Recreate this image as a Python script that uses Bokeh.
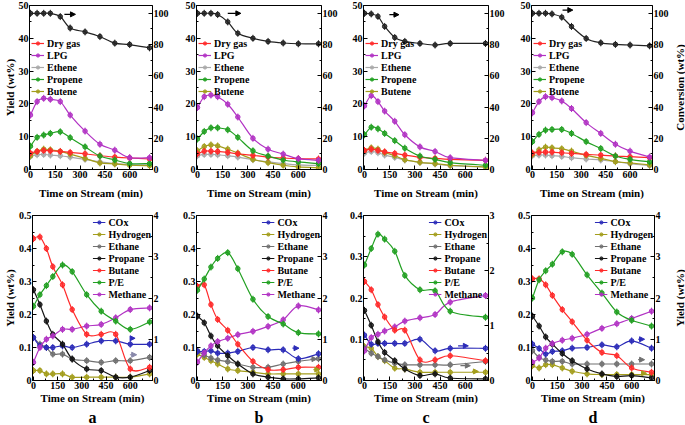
import numpy as np
from bokeh.plotting import figure
from bokeh.models import Range1d, LinearAxis, Legend, LegendItem, Arrow, NormalHead, Title, FixedTicker
from bokeh.layouts import column, row
from bokeh.embed import file_html
from bokeh.resources import INLINE

# ---------------- data ----------------
times = [0, 40, 80, 120, 180, 240, 330, 420, 510, 600, 720]
times_c = [0, 40, 80, 120, 180, 240, 330, 420, 510, 720]
x_ticks = [0, 150, 300, 450, 600]

# top row: yields (wt%) and conversion (wt%)
a_drygas = [5.0, 5.5, 5.8, 5.7, 5.5, 5.2, 4.8, 4.2, 3.8, 3.5, 3.2]
a_lpg = [16.6, 20.7, 21.7, 21.4, 20.7, 16.6, 11.7, 7.7, 5.9, 3.6, 3.6]
a_ethene = [4.0, 4.5, 4.6, 4.4, 4.2, 3.8, 3.1, 2.3, 1.8, 1.5, 1.4]
a_propene = [7.1, 9.8, 10.5, 11.0, 11.5, 9.7, 6.9, 4.1, 2.9, 1.8, 1.8]
a_butene = [4.2, 5.5, 6.2, 6.0, 5.5, 4.7, 3.4, 2.0, 1.7, 1.3, 1.2]
a_conv = [100, 100, 100, 100, 97.9, 90.6, 88.1, 85.1, 80.9, 80.0, 77.9]

b_drygas = [4.8, 5.6, 5.6, 5.5, 5.2, 4.8, 4.3, 3.8, 3.5, 3.3, 3.2]
b_lpg = [18.9, 22.2, 22.7, 22.2, 19.9, 16.0, 9.5, 6.2, 4.7, 3.3, 2.8]
b_ethene = [4.2, 4.6, 4.6, 4.5, 4.2, 3.8, 3.0, 2.3, 1.8, 1.4, 1.2]
b_propene = [9.3, 11.6, 12.7, 12.7, 12.1, 9.8, 5.7, 4.1, 2.9, 2.3, 1.8]
b_butene = [5.7, 7.0, 7.5, 7.2, 6.2, 5.0, 3.1, 2.1, 1.3, 0.8, 0.5]
b_conv = [100, 100, 100, 99.2, 94.5, 87.2, 84.0, 82.0, 81.0, 80.5, 80.5]

c_drygas = [5.8, 6.2, 5.8, 5.4, 4.9, 4.4, 3.7, 3.4, 3.1, 2.8]
c_lpg = [19.4, 22.5, 20.7, 17.8, 14.7, 10.6, 6.9, 5.5, 3.6, 2.8]
c_ethene = [5.0, 5.5, 5.1, 4.4, 3.7, 2.9, 2.2, 1.7, 1.2, 0.8]
c_propene = [10.6, 12.9, 12.4, 11.0, 8.8, 6.5, 4.1, 3.1, 2.1, 1.3]
c_butene = [5.8, 6.6, 6.2, 5.2, 4.2, 3.0, 2.2, 1.8, 1.3, 0.8]
c_conv = [100, 99.6, 98.0, 91.6, 84.5, 82.0, 80.7, 79.7, 80.7, 80.7]

d_drygas = [5.0, 5.2, 5.3, 5.3, 5.1, 4.9, 4.6, 4.4, 4.1, 3.9, 3.6]
d_lpg = [17.3, 20.7, 22.2, 21.9, 20.9, 18.6, 14.3, 11.0, 7.7, 5.6, 3.8]
d_ethene = [4.2, 4.4, 4.4, 4.2, 4.0, 3.6, 3.2, 2.9, 2.4, 1.8, 1.2]
d_propene = [8.5, 10.7, 12.0, 12.2, 12.2, 11.0, 8.5, 6.4, 4.1, 3.1, 2.3]
d_butene = [4.6, 6.0, 6.8, 6.6, 6.3, 5.6, 4.3, 3.4, 2.4, 2.0, 1.4]
d_conv = [100, 100, 100, 99.6, 97.5, 91.6, 83.9, 81.1, 80.1, 79.7, 79.2]

# bottom row: minor products (wt%) and P/E ratio (right axis)
a_cox = [0.13, 0.105, 0.10, 0.10, 0.105, 0.10, 0.11, 0.12, 0.12, 0.11, 0.11]
a_h2 = [0.03, 0.03, 0.02, 0.02, 0.02, 0.01, 0.01, 0.01, 0.01, 0.01, 0.02]
a_ethane = [0.13, 0.11, 0.10, 0.08, 0.08, 0.065, 0.06, 0.055, 0.06, 0.06, 0.07]
a_propane = [0.275, 0.23, 0.18, 0.14, 0.11, 0.065, 0.035, 0.03, 0.01, 0.01, 0.03]
a_butane = [0.43, 0.435, 0.40, 0.345, 0.29, 0.215, 0.14, 0.14, 0.14, 0.035, 0.04]
a_pe = [1.8, 2.08, 2.3, 2.52, 2.8, 2.64, 2.08, 1.68, 1.44, 1.24, 1.42]
a_methane = [0.055, 0.10, 0.125, 0.135, 0.155, 0.155, 0.165, 0.17, 0.19, 0.215, 0.22]

b_cox = [0.088, 0.088, 0.09, 0.083, 0.083, 0.088, 0.10, 0.093, 0.093, 0.066, 0.081]
b_h2 = [0.08, 0.07, 0.06, 0.05, 0.035, 0.03, 0.025, 0.02, 0.02, 0.02, 0.02]
b_ethane = [0.09, 0.077, 0.068, 0.062, 0.057, 0.05, 0.04, 0.04, 0.05, 0.058, 0.066]
b_propane = [0.195, 0.175, 0.135, 0.105, 0.075, 0.05, 0.02, 0.01, 0.005, 0.005, 0.008]
b_butane = [0.285, 0.29, 0.23, 0.185, 0.152, 0.11, 0.058, 0.033, 0.033, 0.04, 0.04]
b_pe = [2.19, 2.46, 2.75, 2.96, 3.1, 2.71, 1.97, 1.55, 1.37, 1.16, 1.13]
b_methane = [0.056, 0.084, 0.105, 0.118, 0.128, 0.139, 0.149, 0.164, 0.184, 0.226, 0.214]

c_cox = [0.11, 0.088, 0.09, 0.09, 0.09, 0.09, 0.10, 0.072, 0.078, 0.078]
c_h2 = [0.082, 0.078, 0.058, 0.048, 0.03, 0.028, 0.02, 0.02, 0.02, 0.02]
c_ethane = [0.078, 0.066, 0.058, 0.05, 0.042, 0.038, 0.038, 0.038, 0.038, 0.046]
c_propane = [0.17, 0.134, 0.094, 0.068, 0.048, 0.028, 0.012, 0.016, 0.006, 0.004]
c_butane = [0.24, 0.22, 0.184, 0.154, 0.122, 0.122, 0.05, 0.05, 0.06, 0.048]
c_pe = [2.1, 2.4, 2.66, 2.57, 2.35, 1.91, 1.65, 1.63, 1.26, 1.15]
c_methane = [0.072, 0.104, 0.112, 0.12, 0.13, 0.144, 0.152, 0.16, 0.19, 0.206]

d_cox = [0.11, 0.097, 0.08, 0.088, 0.09, 0.098, 0.10, 0.108, 0.102, 0.12, 0.098]
d_h2 = [0.045, 0.038, 0.048, 0.048, 0.038, 0.028, 0.02, 0.018, 0.018, 0.018, 0.018]
d_ethane = [0.09, 0.07, 0.062, 0.058, 0.058, 0.05, 0.05, 0.05, 0.05, 0.05, 0.05]
d_propane = [0.195, 0.165, 0.132, 0.11, 0.082, 0.06, 0.035, 0.02, 0.012, 0.015, 0.008]
d_butane = [0.308, 0.308, 0.29, 0.258, 0.215, 0.178, 0.122, 0.085, 0.075, 0.038, 0.025]
d_pe = [2.0, 2.44, 2.66, 2.82, 3.12, 3.06, 2.56, 2.12, 1.66, 1.46, 1.32]
d_methane = [0.055, 0.068, 0.098, 0.112, 0.122, 0.128, 0.14, 0.158, 0.172, 0.188, 0.21]

panel_letters = ["a", "b", "c", "d"]

# ---------------- style ----------------
FONT = "Liberation Serif"
C_DRY = "#ff2a2a"
C_LPG = "#b233c4"
C_ETHENE = "#a9a9a9"
C_PROPENE = "#22a022"
C_BUTENE = "#a39d1c"
C_CONV = "#222222"
C_COX = "#2b2bb8"
C_H2 = "#a39d1c"
C_ETHANE = "#707070"
C_PROPANE = "#151515"
C_BUTANE = "#ff2a2a"
C_PE = "#22a022"
C_METHANE = "#b233c4"

WS = [125, 125, 125, 123]
BL = [27, 22, 22, 22]
BR = [22, 20, 21, 17]
SW = 14  # width of the strip that carries the right-hand axis title


def mids(ticks):
    return [(ticks[j] + ticks[j + 1]) / 2 for j in range(len(ticks) - 1)] + [ticks[-1] + (ticks[1] - ticks[0]) / 2]


def style_axis(ax, label=None, standoff=0):
    ax.axis_line_color = "black"
    ax.major_tick_in = 4
    ax.major_tick_out = 0
    ax.minor_tick_in = 2
    ax.minor_tick_out = 0
    ax.major_tick_line_color = "black"
    ax.minor_tick_line_color = "black"
    ax.major_label_text_font = FONT
    ax.major_label_text_font_style = "bold"
    ax.major_label_text_font_size = "10px"
    ax.major_label_text_color = "black"
    ax.major_label_standoff = 1
    if label:
        ax.axis_label = label
        ax.axis_label_text_font = FONT
        ax.axis_label_text_font_style = "bold"
        ax.axis_label_text_font_size = "11px"
        ax.axis_label_text_color = "black"
        ax.axis_label_standoff = standoff


def make_fig(i, height, bt, bb, yr, yr2, yticks, y2ticks, ylab=None, xlab_standoff=0):
    p = figure(width=BL[i] + WS[i] + BR[i], height=height,
               x_range=Range1d(-6, 738), y_range=Range1d(*yr),
               output_backend="svg", toolbar_location=None, tools="",
               min_border_left=BL[i], min_border_right=BR[i],
               min_border_top=bt, min_border_bottom=bb)
    p.extra_y_ranges = {"r": Range1d(*yr2)}
    p.add_layout(LinearAxis(y_range_name="r"), "right")
    p.xgrid.visible = False
    p.ygrid.visible = False
    p.outline_line_color = "black"
    p.outline_line_alpha = 1
    p.outline_line_width = 1
    p.background_fill_color = "white"
    p.border_fill_color = "white"
    p.xaxis.ticker = FixedTicker(ticks=x_ticks, minor_ticks=mids(x_ticks))
    p.yaxis[0].ticker = FixedTicker(ticks=yticks, minor_ticks=mids(yticks)[:-1])
    p.yaxis[1].ticker = FixedTicker(ticks=y2ticks, minor_ticks=mids(y2ticks))
    style_axis(p.xaxis[0], "Time on Stream (min)", standoff=xlab_standoff)
    style_axis(p.yaxis[0], ylab)
    style_axis(p.yaxis[1])
    return p


def title_strip(height, bt, bb, yr, label):
    # narrow strip whose left-hand axis carries only a title reading bottom-to-top
    s = figure(width=SW, height=height, x_range=Range1d(0, 1), y_range=Range1d(*yr),
               output_backend="svg", toolbar_location=None, tools="",
               min_border_left=SW - 1, min_border_right=0,
               min_border_top=bt, min_border_bottom=bb)
    s.xaxis.visible = False
    s.xgrid.visible = False
    s.ygrid.visible = False
    s.outline_line_color = None
    s.background_fill_color = "white"
    s.border_fill_color = "white"
    ax = s.yaxis[0]
    ax.ticker = FixedTicker(ticks=[])
    ax.axis_line_color = None
    ax.major_tick_in = 0
    ax.major_tick_out = 0
    ax.minor_tick_in = 0
    ax.minor_tick_out = 0
    ax.major_label_standoff = 0
    ax.axis_label = label
    ax.axis_label_text_font = FONT
    ax.axis_label_text_font_style = "bold"
    ax.axis_label_text_font_size = "11px"
    ax.axis_label_text_color = "black"
    ax.axis_label_standoff = 0
    return s


def series(p, x, y, color, rng="default", lw=1.2):
    x = np.asarray(x, float)
    y = np.asarray(y, float)
    n = len(x)
    qx = np.concatenate([[x[0]], x, [x[-1]]])
    qy = np.concatenate([[y[0]], y, [y[-1]]])
    i = np.arange(n - 1)
    c1x = qx[i + 1] + (qx[i + 2] - qx[i]) / 6
    c1y = qy[i + 1] + (qy[i + 2] - qy[i]) / 6
    c2x = qx[i + 2] - (qx[i + 3] - qx[i + 1]) / 6
    c2y = qy[i + 2] - (qy[i + 3] - qy[i + 1]) / 6
    p.bezier(x0=x[:-1], y0=y[:-1], x1=x[1:], y1=y[1:], cx0=c1x, cy0=c1y,
             cx1=c2x, cy1=c2y, line_color=color, line_width=lw, y_range_name=rng)
    lr = p.line(x=x[:1], y=y[:1], line_color=color, line_width=lw, y_range_name=rng)
    er = p.scatter(x=x, y=y, marker="dash", angle=np.pi / 2, size=7, line_color=color,
                   line_width=1, y_range_name=rng)
    sr = p.scatter(x=x, y=y, marker="circle", size=4.5, line_color=color,
                   fill_color=color, fill_alpha=0.8, y_range_name=rng)
    return [lr, er, sr]


def add_legend(p, items, loc):
    leg = Legend(items=[LegendItem(label=l, renderers=r) for l, r in items],
                 location=loc, label_text_font=FONT,
                 label_text_font_style="bold",
                 label_text_font_size="10px", label_text_color="black",
                 glyph_width=13, glyph_height=8, label_height=12, label_standoff=3,
                 spacing=0, padding=1, margin=0,
                 background_fill_alpha=0, border_line_alpha=0)
    p.add_layout(leg)


def add_arrow(p, x0, x1, y, color):
    p.add_layout(Arrow(end=NormalHead(size=5, line_color=color, fill_color=color, line_width=1),
                       x_start=x0, x_end=x1, y_start=y, y_end=y,
                       line_color=color, line_width=1.2))


top_data = [
    (times, a_drygas, a_lpg, a_ethene, a_propene, a_butene, a_conv),
    (times, b_drygas, b_lpg, b_ethene, b_propene, b_butene, b_conv),
    (times_c, c_drygas, c_lpg, c_ethene, c_propene, c_butene, c_conv),
    (times, d_drygas, d_lpg, d_ethene, d_propene, d_butene, d_conv),
]
top_arrows = [(205, 272, 47.3), (180, 258, 47.6), (148, 205, 47.2), (185, 248, 48.6)]

bot_data = [
    (times, a_cox, a_h2, a_ethane, a_propane, a_butane, a_pe, a_methane),
    (times, b_cox, b_h2, b_ethane, b_propane, b_butane, b_pe, b_methane),
    (times_c, c_cox, c_h2, c_ethane, c_propane, c_butane, c_pe, c_methane),
    (times, d_cox, d_h2, d_ethane, d_propane, d_butane, d_pe, d_methane),
]
bot_arrows = [
    [(600, 630, 0.128, C_COX), (598, 640, 0.078, "#8888aa")],
    [(565, 604, 0.098, C_COX), (672, 711, 0.065, C_ETHANE), (690, 728, 0.033, C_H2)],
    [(557, 618, 0.084, C_COX), (571, 630, 0.036, C_ETHANE), (640, 678, 0.022, C_H2)],
    [(639, 678, 0.125, C_COX), (639, 678, 0.063, C_ETHANE), (659, 690, 0.022, C_H2)],
]
bot_ranges = [((0, 0.5), (0, 4)), ((0, 0.5), (0, 4)), ((0, 0.4), (0, 3)), ((0, 0.5), (0, 4))]

TOP_H, TOP_BT, TOP_BB = 205, 5, 36
BOT_H, BOT_BT, BOT_BB = 220, 10, 45

top_figs = []
for k in range(4):
    t, dry, lpg, eth, pro, but, conv = top_data[k]
    p = make_fig(k, TOP_H, TOP_BT, TOP_BB, (0, 50), (0, 105), [0, 10, 20, 30, 40, 50],
                 [0, 20, 40, 60, 80, 100],
                 ylab="Yield (wt%)" if k == 0 else None, xlab_standoff=6)
    rc = series(p, t, conv, C_CONV, rng="r")
    r_eth = series(p, t, eth, C_ETHENE)
    r_but = series(p, t, but, C_BUTENE)
    r_dry = series(p, t, dry, C_DRY)
    r_pro = series(p, t, pro, C_PROPENE)
    r_lpg = series(p, t, lpg, C_LPG)
    add_arrow(p, *top_arrows[k], "black")
    add_legend(p, [("Dry gas", r_dry), ("LPG", r_lpg), ("Ethene", r_eth),
                   ("Propene", r_pro), ("Butene", r_but)], (1, 71))
    top_figs.append(p)
top_figs.append(title_strip(TOP_H, TOP_BT, TOP_BB, (0, 50), "Conversion (wt%)"))

bot_figs = []
for k in range(4):
    t, cox, h2, ethane, propane, butane, pe, methane = bot_data[k]
    yr, yr2 = bot_ranges[k]
    lt = [round(v * 0.1, 1) for v in range(int(round(yr[1] * 10)) + 1)]
    rt = list(range(int(yr2[1]) + 1))
    p = make_fig(k, BOT_H, BOT_BT, BOT_BB, yr, yr2, lt, rt,
                 ylab="Yield (wt%)" if k == 0 else None)
    r_h2 = series(p, t, h2, C_H2)
    r_ethane = series(p, t, ethane, C_ETHANE)
    r_cox = series(p, t, cox, C_COX)
    r_propane = series(p, t, propane, C_PROPANE)
    r_methane = series(p, t, methane, C_METHANE)
    r_butane = series(p, t, butane, C_BUTANE)
    r_pe = series(p, t, pe, C_PE, rng="r")
    for (x0, x1, y, c) in bot_arrows[k]:
        add_arrow(p, x0, x1, y, c)
    add_legend(p, [("COx", r_cox), ("Hydrogen", r_h2), ("Ethane", r_ethane),
                   ("Propane", r_propane), ("Butane", r_butane), ("P/E", r_pe),
                   ("Methane", r_methane)], "top_right")
    p.add_layout(Title(text=panel_letters[k], align="center", text_font=FONT,
                       text_font_style="bold", text_font_size="16px",
                       text_color="black", standoff=0), "below")
    bot_figs.append(p)
bot_figs.append(title_strip(BOT_H, BOT_BT, BOT_BB, (0, 0.5), "Yield (wt%)"))

layout = column(row(*top_figs), row(*bot_figs))
open("out.html", "w").write(file_html(layout, INLINE))
